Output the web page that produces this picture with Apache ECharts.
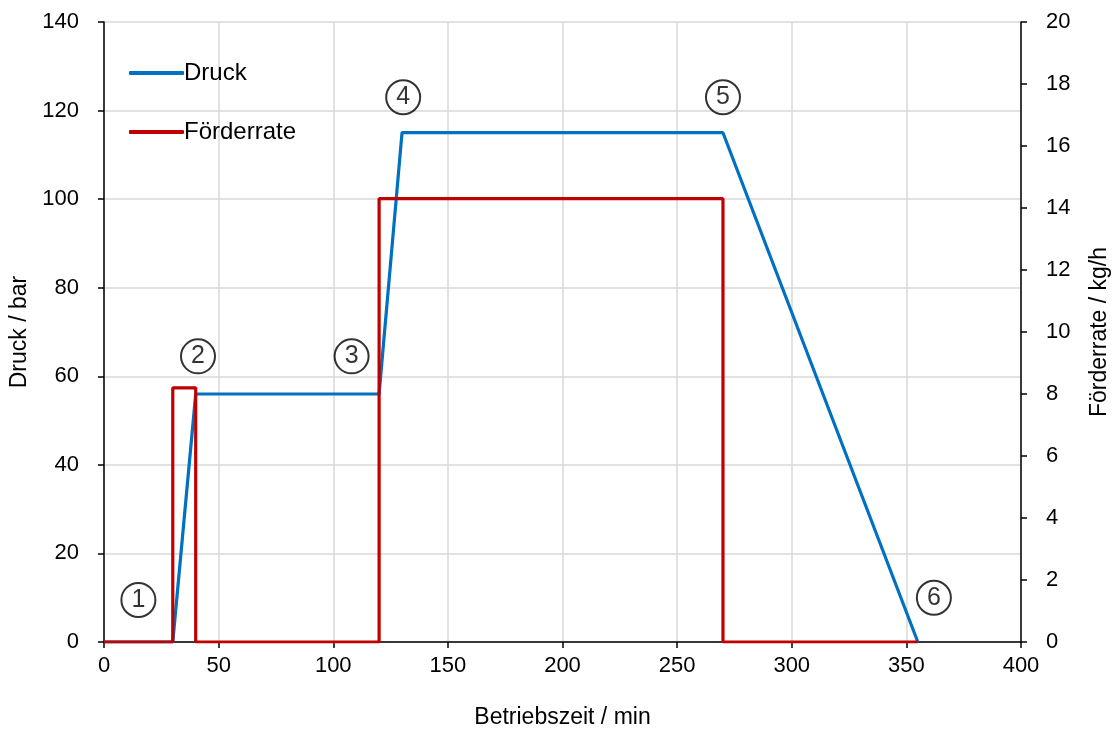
<!DOCTYPE html>
<html>
<head>
<meta charset="utf-8">
<script src="https://cdn.jsdelivr.net/npm/echarts@6/dist/echarts.min.js"></script>
<style>
html,body{margin:0;padding:0;background:#fff;overflow:hidden;}
#chart{width:1114px;height:729px;}
</style>
</head>
<body>
<div id="chart"></div>
<script>
// Pressure profile (min, bar)
const druckTime = [0, 30, 40, 120, 130, 270, 355];
const druckValues = [0, 0, 56, 56, 115, 115, 0];
// Feed rate profile (min, kg/h), step-wise
const rateTime = [0, 30, 30, 40, 40, 120, 120, 270, 270, 355];
const rateValues = [0, 0, 8.2, 8.2, 0, 0, 14.3, 14.3, 0, 0];
// Numbered phase markers (min, bar)
const markerLabels = ['1', '2', '3', '4', '5', '6'];
const markerTime = [15, 41, 108, 130.5, 270, 362];
const markerDruck = [9.5, 64.5, 64.5, 123, 123, 10];
// Axis ticks: [min, max, interval]
const xTicks = [0, 400, 50];
const yLeftTicks = [0, 140, 20];
const yRightTicks = [0, 20, 2];

const FONT = 'Liberation Sans';
const tickText = { color: '#000', fontSize: 22, fontFamily: FONT };
const nameText = { color: '#000', fontSize: 23, fontFamily: FONT };
const axisStroke = { color: '#000', width: 1.5 };
const gridStroke = { color: '#d9d9d9', width: 1.5 };

const chart = echarts.init(document.getElementById('chart'), null, { renderer: 'canvas' });

chart.setOption({
  animation: false,
  backgroundColor: '#fff',
  textStyle: { fontFamily: FONT },
  // fixed plot rectangle; axis names may sit close to the edge
  grid: { left: 104, right: 93, top: 22, bottom: 87, containLabel: false, outerBoundsMode: 'none' },
  legend: {
    left: 124, top: 56, orient: 'vertical', itemGap: 35,
    itemWidth: 55, itemHeight: 4, icon: 'roundRect',
    textStyle: { color: '#000', fontSize: 24, fontFamily: FONT, padding: [0, 0, 0, -5] },
    data: ['Druck', 'Förderrate']
  },
  xAxis: {
    type: 'value', min: xTicks[0], max: xTicks[1], interval: xTicks[2],
    name: 'Betriebszeit / min', nameLocation: 'middle', nameGap: 64,
    nameTextStyle: nameText,
    axisLine: { onZero: false, lineStyle: axisStroke },
    axisTick: { show: true, length: 6, lineStyle: axisStroke },
    axisLabel: Object.assign({ margin: 13 }, tickText),
    splitLine: { show: true, lineStyle: gridStroke }
  },
  yAxis: [
    {
      type: 'value', min: yLeftTicks[0], max: yLeftTicks[1], interval: yLeftTicks[2],
      name: 'Druck / bar', nameLocation: 'middle', nameGap: 64, nameRotate: 90,
      nameTextStyle: nameText,
      axisLine: { show: true, lineStyle: axisStroke },
      axisTick: { show: true, length: 6, lineStyle: axisStroke },
      axisLabel: Object.assign({ margin: 25 }, tickText),
      splitLine: { show: true, lineStyle: gridStroke }
    },
    {
      type: 'value', position: 'right', min: yRightTicks[0], max: yRightTicks[1], interval: yRightTicks[2],
      name: 'Förderrate / kg/h', nameLocation: 'middle', nameGap: 67, nameRotate: 90,
      nameTextStyle: nameText,
      axisLine: { show: true, lineStyle: axisStroke },
      axisTick: { show: true, length: 6, lineStyle: axisStroke },
      axisLabel: Object.assign({ margin: 25 }, tickText),
      splitLine: { show: false }
    }
  ],
  series: [
    {
      name: 'Druck', type: 'line', yAxisIndex: 0, symbol: 'none',
      lineStyle: { color: '#0070C0', width: 3.2 }, itemStyle: { color: '#0070C0' },
      data: druckTime.map((t, i) => [t, druckValues[i]]), z: 3
    },
    {
      name: 'Förderrate', type: 'line', yAxisIndex: 1, symbol: 'none',
      lineStyle: { color: '#C00000', width: 3.2 }, itemStyle: { color: '#C00000' },
      data: rateTime.map((t, i) => [t, rateValues[i]]), z: 4
    },
    {
      name: 'Phasen', type: 'scatter', yAxisIndex: 0, symbol: 'circle', symbolSize: 34,
      itemStyle: { color: 'rgba(255,255,255,0)', borderColor: '#000', borderWidth: 2 },
      label: { show: true, position: 'inside', color: '#000', fontSize: 25, fontFamily: FONT,
               formatter: p => markerLabels[p.dataIndex] },
      data: markerTime.map((t, i) => [t, markerDruck[i]]), z: 5, silent: true
    }
  ]
});
</script>
</body>
</html>
